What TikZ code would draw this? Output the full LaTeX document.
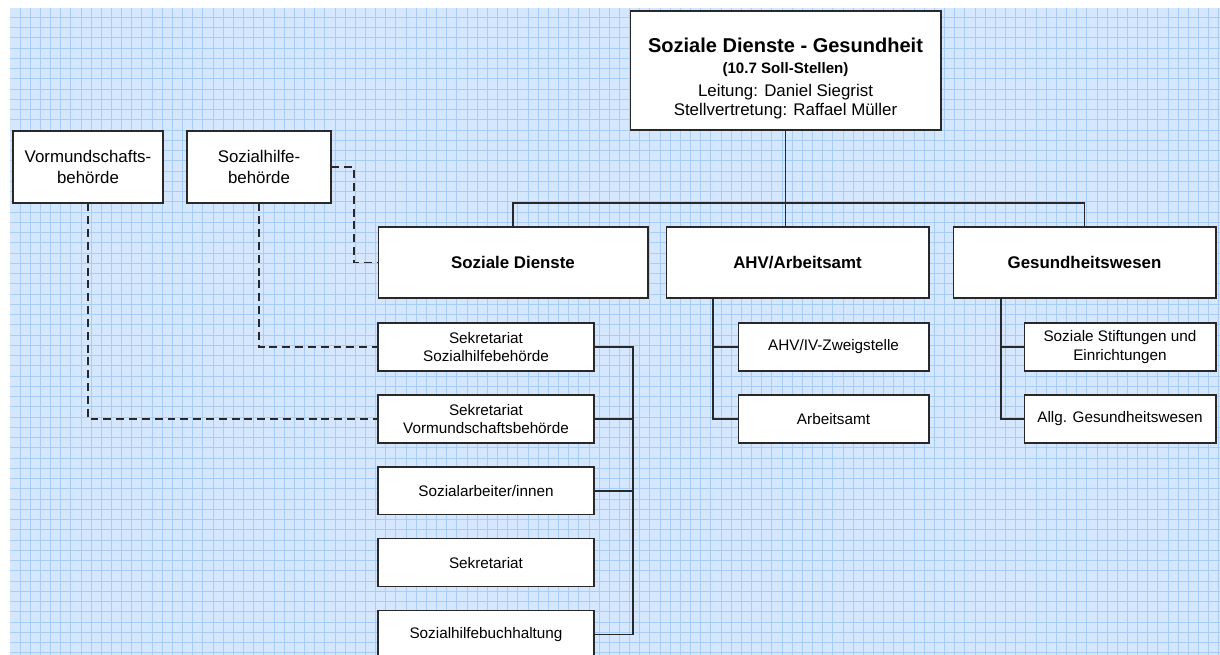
\documentclass[tikz,border=0pt]{standalone}
\usepackage{fontspec}
\setmainfont{Liberation Sans}
\usetikzlibrary{positioning}

\definecolor{gridfill}{RGB}{213,231,254}
\definecolor{gridline}{RGB}{168,205,247}
\definecolor{boxline}{RGB}{40,40,40}

\begin{document}
\begin{tikzpicture}[x=0.02cm, y=-0.02cm, node distance=1.44cm,
    box/.style={draw=boxline, fill=white, line width=0.6pt, align=center, inner sep=2pt},
    headbox/.style={box, minimum width=5.4cm, minimum height=1.42cm, font=\fontsize{9.6}{11}\selectfont\bfseries},
    sidebox/.style={box, minimum height=1.44cm, font=\fontsize{9.6}{12}\selectfont},
    subbox/.style={box, minimum width=4.32cm, minimum height=0.96cm, font=\fontsize{8.7}{10.4}\selectfont},
    link/.style={draw=boxline, line width=0.6pt},
    dashlink/.style={draw=boxline, line width=0.7pt, dash pattern=on 4.5pt off 2.8pt}]

    % Background grid
    \useasboundingbox (0,0) rectangle (1220,655);
    \clip (0,0) rectangle (1220,655);
    \fill[gridfill] (10,8) rectangle (1220,655);
    \foreach \i in {0,...,118}
        \draw[gridline, line width=0.5pt] (20+10.16*\i,8) -- (20+10.16*\i,655);
    \foreach \i in {0,...,62}
        \draw[gridline, line width=0.5pt] (10,17.3+10.25*\i) -- (1220,17.3+10.25*\i);

    % Nodes
    \node[box, minimum width=6.22cm, minimum height=2.38cm, font=\fontsize{9.6}{13}\selectfont] (leitung) at (785.5,70.5)
        {\rule{0pt}{17pt}{\fontsize{11.4}{13}\selectfont\bfseries Soziale Dienste - Gesundheit}\\[-1.1pt]
         {\fontsize{8.6}{13}\selectfont\bfseries (10.7 Soll-Stellen)}\\
         Leitung: Daniel Siegrist\\[-2.2pt]
         Stellvertretung: Raffael Müller};

    \node[headbox] (sozdienste) at (513,262.5) {Soziale Dienste};
    \node[headbox, minimum width=5.26cm] (ahv) at (797.5,262.5) {AHV/Arbeitsamt};
    \node[headbox, minimum width=5.26cm] (gesund) at (1084.5,262.5) {Gesundheitswesen};

    \node[sidebox, minimum width=3cm] (vormund) at (88,167) {Vormundschafts-\\behörde};
    \node[sidebox, minimum width=2.88cm] (sozhilfe) at (259,167) {Sozialhilfe-\\behörde};

    \node[subbox] (seksozhilfe) at (486,347) {Sekretariat\\Sozialhilfebehörde};
    \node[subbox, below of=seksozhilfe] (sekvormund) {Sekretariat\\Vormundschaftsbehörde};
    \node[subbox, below of=sekvormund] (sozarbeit) {Sozialarbeiter/innen};
    \node[subbox, below of=sozarbeit] (sekretariat) {Sekretariat};
    \node[subbox, below of=sekretariat] (buchhaltung) {Sozialhilfebuchhaltung};

    \node[subbox, minimum width=3.82cm] (zweigstelle) at (833.5,347) {AHV/IV-Zweigstelle};
    \node[subbox, minimum width=3.82cm, below of=zweigstelle] (arbeitsamt) {Arbeitsamt};

    \node[subbox, minimum width=3.84cm] (stiftungen) at (1120,347) {Soziale Stiftungen und\\Einrichtungen};
    \node[subbox, minimum width=3.84cm, below of=stiftungen] (allgges) {Allg. Gesundheitswesen};

    % Rails
    \coordinate (bus) at (785.5,203);
    \coordinate (sozrail) at (633,0);
    \coordinate (ahvrail) at (713,0);
    \coordinate (gesrail) at (1001,0);
    \coordinate (elbow) at (354,0);

    % Arrows
    \draw[link] (leitung.south) -- (leitung.south |- ahv.north);
    \draw[link] (sozdienste.north) |- (bus) -| (gesund.north);

    \draw[link] (seksozhilfe.east) -- (seksozhilfe.east -| sozrail) -- (buchhaltung.east -| sozrail) -- (buchhaltung.east);
    \draw[link] (sekvormund.east) -- (sekvormund.east -| sozrail);
    \draw[link] (sozarbeit.east) -- (sozarbeit.east -| sozrail);

    \draw[link] (ahv.south -| ahvrail) |- (arbeitsamt.west);
    \draw[link] (zweigstelle.west) -- (zweigstelle.west -| ahvrail);
    \draw[link] (gesund.south -| gesrail) |- (allgges.west);
    \draw[link] (stiftungen.west) -- (stiftungen.west -| gesrail);

    \draw[dashlink] (sozhilfe.east) -| (elbow |- sozdienste.west) -- (sozdienste.west);
    \draw[dashlink] (sozhilfe.south) |- (seksozhilfe.west);
    \draw[dashlink] (vormund.south) |- (sekvormund.west);
\end{tikzpicture}
\end{document}
